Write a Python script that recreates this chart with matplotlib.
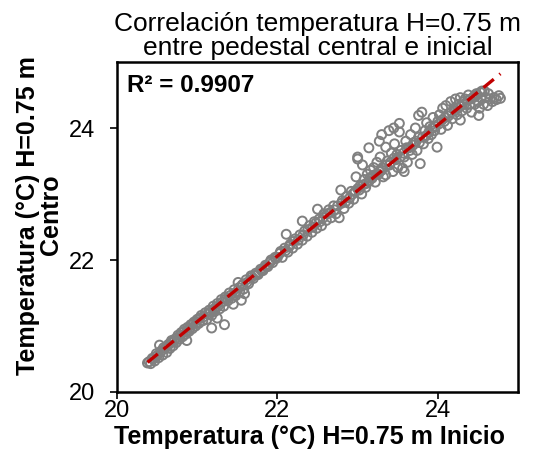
import numpy as np
import matplotlib.pyplot as plt

plt.rcParams["font.family"] = ["Liberation Sans", "DejaVu Sans"]

# temperature at H=0.75 m: start pedestal (x) vs central pedestal (y), degC
inicio = [
    20.38, 20.40, 20.42, 20.45, 20.47, 20.50, 20.52, 20.55, 20.57, 20.60,
    20.62, 20.64, 20.66, 20.68, 20.70, 20.72, 20.74, 20.76, 20.78, 20.80,
    20.82, 20.84, 20.86, 20.88, 20.90, 20.92, 20.94, 20.96, 20.98, 21.00,
    21.02, 21.05, 21.07, 21.10, 21.12, 21.15, 21.18, 21.20, 21.22, 21.25,
    21.28, 21.30, 21.33, 21.35, 21.38, 21.40, 21.43, 21.46, 21.48, 21.51,
    21.53, 21.56, 21.58, 21.61, 21.64, 21.67, 21.70, 21.73, 21.76, 21.79,
    21.82, 21.85, 21.88, 21.91, 21.94, 21.97, 22.00,
    21.18, 21.34, 21.55, 21.59, 21.45, 21.25, 20.53, 20.87,
    22.03, 22.06, 22.09, 22.11, 22.13, 22.16, 22.19, 22.22, 22.25, 22.28,
    22.31, 22.31, 22.34, 22.37, 22.40, 22.43, 22.46, 22.50, 22.49, 22.52,
    22.55, 22.58, 22.61, 22.64, 22.67, 22.70, 22.73, 22.77, 22.79, 22.80,
    22.83, 22.86, 22.89, 22.92, 22.95, 22.98, 23.00,
    23.03, 23.05, 23.06, 23.08, 23.10, 23.12, 23.14, 23.16, 23.18, 23.20,
    23.22, 23.24, 23.26, 23.28, 23.30, 23.32, 23.35, 23.35, 23.37, 23.40,
    23.42, 23.44, 23.46, 23.48, 23.50, 23.52, 23.52, 23.54, 23.56, 23.58,
    23.60, 23.62, 23.64, 23.66, 23.68, 23.70, 23.72, 23.74, 23.76, 23.76,
    23.78, 23.80, 23.82, 23.84, 23.86, 23.88, 23.90, 23.92, 23.94, 23.96,
    23.99, 24.00,
    23.00, 23.00, 23.14, 23.27, 23.39, 23.58, 23.45, 23.30,
    24.02, 24.04, 24.06, 24.08, 24.10, 24.12, 24.14, 24.16, 24.18, 24.20,
    24.22, 24.24, 24.26, 24.28, 24.30, 24.32, 24.34, 24.36, 24.38, 24.40,
    24.42, 24.44, 24.46, 24.48, 24.50, 24.51, 24.52, 24.54, 24.55, 24.57,
    24.60, 24.62, 24.65, 24.68, 24.73, 24.76, 24.28, 24.78,
    # points sitting on the dense band
    20.44, 20.49, 20.54, 20.58, 20.63, 20.67, 20.71, 20.75, 20.79, 20.83,
    20.87, 20.91, 20.95, 20.99, 21.03, 21.08, 21.13, 21.17, 21.21, 21.26,
    21.31, 21.36, 21.41, 21.47, 21.52, 21.57, 21.62, 21.68, 21.74, 21.80,
    21.86, 21.92, 21.98, 22.04, 22.10, 22.15, 22.20, 22.26, 22.32, 22.38,
    22.44, 22.48, 22.53, 22.57, 22.62, 22.66, 22.71, 22.75, 22.81, 22.85,
    22.90, 22.94, 22.97, 23.02, 23.07, 23.11, 23.15, 23.19, 23.23, 23.27,
    23.31, 23.36, 23.41, 23.45, 23.49, 23.53, 23.57, 23.61, 23.65, 23.69,
    23.73, 23.77, 23.81, 23.85, 23.89, 23.93, 23.97, 24.01, 24.05, 24.09,
    24.13, 24.17, 24.21, 24.25, 24.29, 24.33, 24.37, 24.41, 24.45, 24.49,
    24.53, 24.58, 24.63, 24.70,
]
centro = [
    20.44, 20.46, 20.43, 20.50, 20.47, 20.55, 20.52, 20.62, 20.56, 20.66,
    20.60, 20.72, 20.66, 20.78, 20.70, 20.80, 20.75, 20.86, 20.80, 20.90,
    20.84, 20.95, 20.88, 20.98, 20.92, 21.02, 20.96, 21.06, 21.00, 21.10,
    21.04, 21.16, 21.08, 21.20, 21.10, 21.24, 21.16, 21.30, 21.22, 21.34,
    21.26, 21.40, 21.30, 21.44, 21.38, 21.50, 21.42, 21.55, 21.46, 21.66,
    21.52, 21.62, 21.56, 21.70, 21.64, 21.76, 21.72, 21.80, 21.78, 21.86,
    21.84, 21.92, 21.90, 21.97, 21.96, 22.04, 22.04,
    20.97, 21.02, 21.39, 21.49, 21.33, 21.12, 20.71, 20.78,
    22.10, 22.04, 22.18, 22.39, 22.12, 22.24, 22.18, 22.32, 22.24, 22.38,
    22.59, 22.30, 22.44, 22.36, 22.52, 22.42, 22.58, 22.77, 22.48, 22.62,
    22.52, 22.70, 22.60, 22.76, 22.64, 22.82, 22.70, 22.64, 23.06, 22.86,
    22.78, 22.96, 22.86, 23.04, 22.92, 23.26, 23.08,
    23.12, 23.00, 23.44, 23.22, 23.10, 23.30, 23.19, 23.36, 23.24, 23.40,
    23.18, 23.48, 23.30, 23.56, 23.36, 23.26, 23.71, 23.29, 23.50, 23.44,
    23.62, 23.34, 23.76, 23.52, 23.40, 23.94, 24.07, 23.66, 23.39, 23.56,
    23.80, 23.48, 23.70, 23.90, 23.60, 23.78, 24.00, 23.66, 24.19, 23.86,
    23.46, 24.24, 23.76, 23.96, 24.08, 23.84, 24.02, 23.90, 24.16, 23.96,
    23.71, 24.10,
    23.56, 23.53, 23.70, 23.80, 23.96, 23.34, 24.00, 23.90,
    24.20, 23.98, 24.30, 24.10, 24.34, 24.04, 24.22, 24.40, 24.14, 24.30,
    24.44, 24.20, 24.36, 24.46, 24.26, 24.40, 24.44, 24.30, 24.50, 24.36,
    24.24, 24.46, 24.36, 24.52, 24.40, 24.19, 24.30, 24.46, 24.56, 24.36,
    24.46, 24.34, 24.44, 24.40, 24.43, 24.49, 24.12, 24.45,
    20.51, 20.58, 20.60, 20.67, 20.69, 20.75, 20.77, 20.82, 20.86, 20.91,
    20.93, 20.97, 21.03, 21.05, 21.12, 21.14, 21.18, 21.22, 21.26, 21.30,
    21.36, 21.41, 21.46, 21.50, 21.58, 21.63, 21.66, 21.74, 21.78, 21.84,
    21.90, 22.00, 22.02, 22.13, 22.14, 22.21, 22.28, 22.30, 22.38, 22.46,
    22.50, 22.56, 22.58, 22.64, 22.70, 22.72, 22.76, 22.82, 22.90, 22.88,
    22.94, 23.00, 23.04, 23.06, 23.14, 23.16, 23.24, 23.28, 23.30, 23.34,
    23.40, 23.44, 23.48, 23.54, 23.60, 23.56, 23.62, 23.70, 23.66, 23.74,
    23.80, 23.78, 23.86, 23.88, 23.94, 24.00, 24.02, 24.06, 24.12, 24.16,
    24.18, 24.24, 24.26, 24.30, 24.34, 24.36, 24.42, 24.44, 24.48, 24.50,
    24.54, 24.56, 24.52, 24.46,
]
r2_text = "R² = 0.9907"

x = np.array(inicio)
y = np.array(centro)
(m, b) = np.polyfit(x, y, 1)
xs = np.array([x.min(), x.max()])

fig, ax = plt.subplots(figsize=(5.33, 4.68), dpi=100)
plt.subplots_adjust(left=0.2195, right=0.972, bottom=0.1624, top=0.8675)

ax.scatter(x, y, s=42, facecolors="none", edgecolors="#808080", linewidths=1.4, zorder=2)
ax.plot(xs, m * xs + b, color="#c00000", lw=2.4, dashes=(4, 2.2), zorder=3)

ax.set_xlim(20, 25)
ax.set_ylim(20, 25)
ax.set_xticks([20, 22, 24])
ax.set_yticks([20, 22, 24])
ax.tick_params(direction="out", length=5, width=1.2, labelsize=17)
ax.tick_params(axis="x", pad=1)
ax.tick_params(axis="y", pad=11)
for sp in ax.spines.values():
    sp.set_linewidth(1.8)

ax.set_title("Correlación temperatura H=0.75 m\nentre pedestal central e inicial",
             fontsize=19, linespacing=0.98, pad=5)
ax.set_xlabel("Temperatura (°C) H=0.75 m Inicio", fontsize=18, fontweight="bold")
ax.xaxis.set_label_coords(0.479, -0.1)
ax.set_ylabel("Temperatura (°C) H=0.75 m\nCentro", fontsize=18, fontweight="bold",
              linespacing=0.95)
ax.yaxis.set_label_coords(-0.135, 0.536)
ax.text(0.025, 0.965, r2_text, transform=ax.transAxes, fontsize=17.5, fontweight="bold",
        va="top", ha="left")

plt.savefig("out.png", dpi=100)
